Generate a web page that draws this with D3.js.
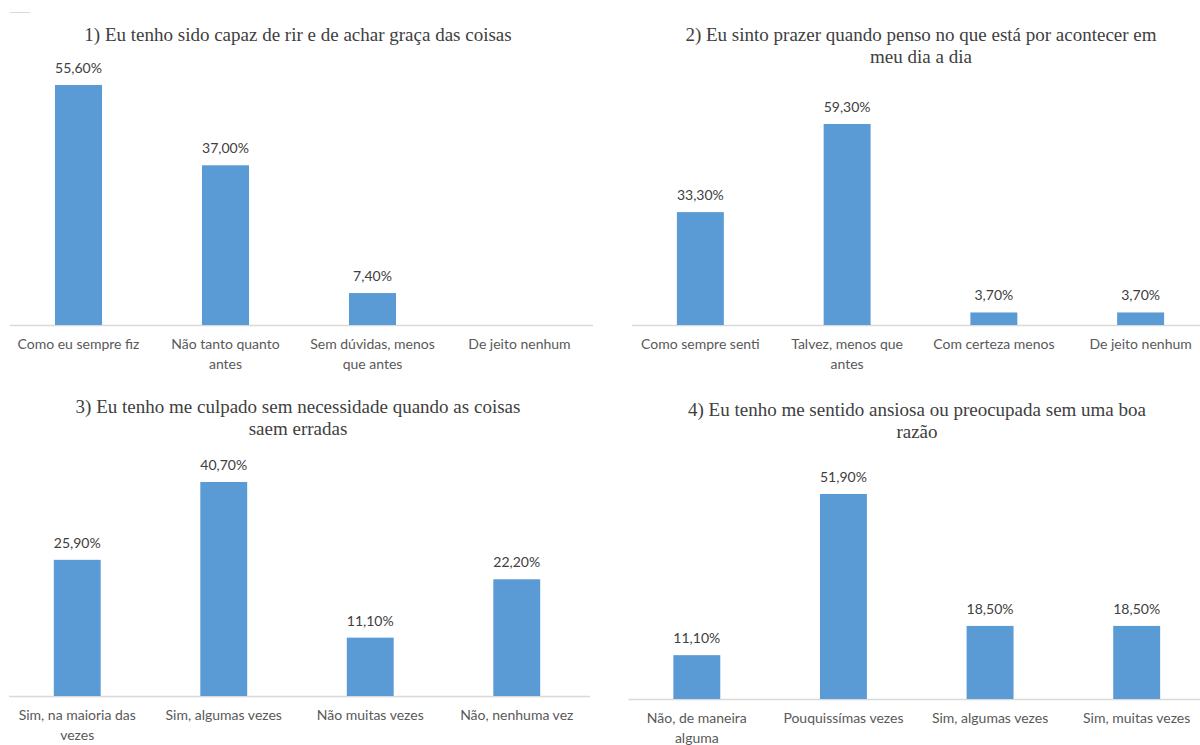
<!DOCTYPE html>
<html>
<head>
<meta charset="utf-8">
<script src="https://cdn.jsdelivr.net/npm/d3@7"></script>
<style>
  html, body { margin: 0; padding: 0; background: #fff; }
  svg { display: block; }
</style>
</head>
<body>
<svg id="chart" width="1200" height="745"></svg>
<script>
// ---- Data ----
const titles1 = ["1) Eu tenho sido capaz de rir e de achar graça das coisas"];
const categories1 = ["Como eu sempre fiz", "Não tanto quanto\nantes", "Sem dúvidas, menos\nque antes", "De jeito nenhum"];
const values1 = [55.6, 37.0, 7.4, null];

const titles2 = ["2) Eu sinto prazer quando penso no que está por acontecer em", "meu dia a dia"];
const categories2 = ["Como sempre senti", "Talvez, menos que\nantes", "Com certeza menos", "De jeito nenhum"];
const values2 = [33.3, 59.3, 3.7, 3.7];

const titles3 = ["3) Eu tenho me culpado sem necessidade quando as coisas", "saem erradas"];
const categories3 = ["Sim, na maioria das\nvezes", "Sim, algumas vezes", "Não muitas vezes", "Não, nenhuma vez"];
const values3 = [25.9, 40.7, 11.1, 22.2];

const titles4 = ["4) Eu tenho me sentido ansiosa ou preocupada sem uma boa", "razão"];
const categories4 = ["Não, de maneira\nalguma", "Pouquissímas vezes", "Sim, algumas vezes", "Sim, muitas vezes"];
const values4 = [11.1, 51.9, 18.5, 18.5];

const axisMax = [60, 70, 45, 60];

// ---- Layout ----
const panels = [
  { titles: titles1, cats: categories1, vals: values1, max: axisMax[0], x0: 5,     x1: 593,  yTop: 66,    yBase: 325, tx: 298, ty: 41 },
  { titles: titles2, cats: categories2, vals: values2, max: axisMax[1], x0: 627,   x1: 1214, yTop: 87.7,  yBase: 325, tx: 921, ty: 41 },
  { titles: titles3, cats: categories3, vals: values3, max: axisMax[2], x0: 4,     x1: 590,  yTop: 459.4, yBase: 696, tx: 298, ty: 413 },
  { titles: titles4, cats: categories4, vals: values4, max: axisMax[3], x0: 623.5, x1: 1210, yTop: 462,   yBase: 699, tx: 917, ty: 416 }
];

const svg = d3.select("#chart");
const barColor = "#5B9BD5";
const textColor = "#595959";
const titleColor = "#404040";
const labelFont = "Lato, 'Open Sans', sans-serif";
const titleFont = "'Liberation Serif', 'Times New Roman', serif";

// small decoration top-left
svg.append("line").attr("x1", 10).attr("x2", 30).attr("y1", 12.5).attr("y2", 12.5)
  .attr("stroke", "#d9d9d9").attr("stroke-width", 1);

panels.forEach(p => {
  const g = svg.append("g");
  const x = d3.scaleBand().domain(p.cats).range([p.x0, p.x1]).paddingInner(0.68).paddingOuter(0.34);
  const y = d3.scaleLinear().domain([0, p.max]).range([p.yBase, p.yTop]);

  // title
  const t = g.append("text")
    .attr("x", p.tx).attr("y", p.ty)
    .attr("text-anchor", "middle")
    .attr("font-family", titleFont).attr("font-size", 19)
    .attr("fill", titleColor);
  p.titles.forEach((line, i) => {
    t.append("tspan").attr("x", p.tx).attr("dy", i === 0 ? 0 : 21.5).text(line);
  });

  // axis line
  g.append("line")
    .attr("x1", p.x0 + 5).attr("x2", Math.min(p.x1, 1200))
    .attr("y1", p.yBase + 0.5).attr("y2", p.yBase + 0.5)
    .attr("stroke", "#d9d9d9").attr("stroke-width", 1.3);

  const data = p.cats.map((c, i) => ({ c, v: p.vals[i] }));

  // bars
  g.selectAll("rect.bar").data(data.filter(d => d.v != null)).enter().append("rect")
    .attr("x", d => x(d.c))
    .attr("width", x.bandwidth())
    .attr("y", d => y(d.v))
    .attr("height", d => y(0) - y(d.v))
    .attr("fill", barColor);

  // value labels
  g.selectAll("text.val").data(data.filter(d => d.v != null)).enter().append("text")
    .attr("x", d => x(d.c) + x.bandwidth() / 2)
    .attr("y", d => y(d.v) - 12)
    .attr("text-anchor", "middle")
    .attr("font-family", labelFont).attr("font-size", 14)
    .attr("fill", "#404040")
    .text(d => d.v.toFixed(2).replace(".", ",") + "%");

  // category labels
  data.forEach(d => {
    const cx = x(d.c) + x.bandwidth() / 2;
    const lt = g.append("text")
      .attr("x", cx).attr("y", p.yBase + 24)
      .attr("text-anchor", "middle")
      .attr("font-family", labelFont).attr("font-size", 14)
      .attr("fill", textColor);
    d.c.split("\n").forEach((line, i) => {
      lt.append("tspan").attr("x", cx).attr("dy", i === 0 ? 0 : 20).text(line);
    });
  });
});
</script>
</body>
</html>
